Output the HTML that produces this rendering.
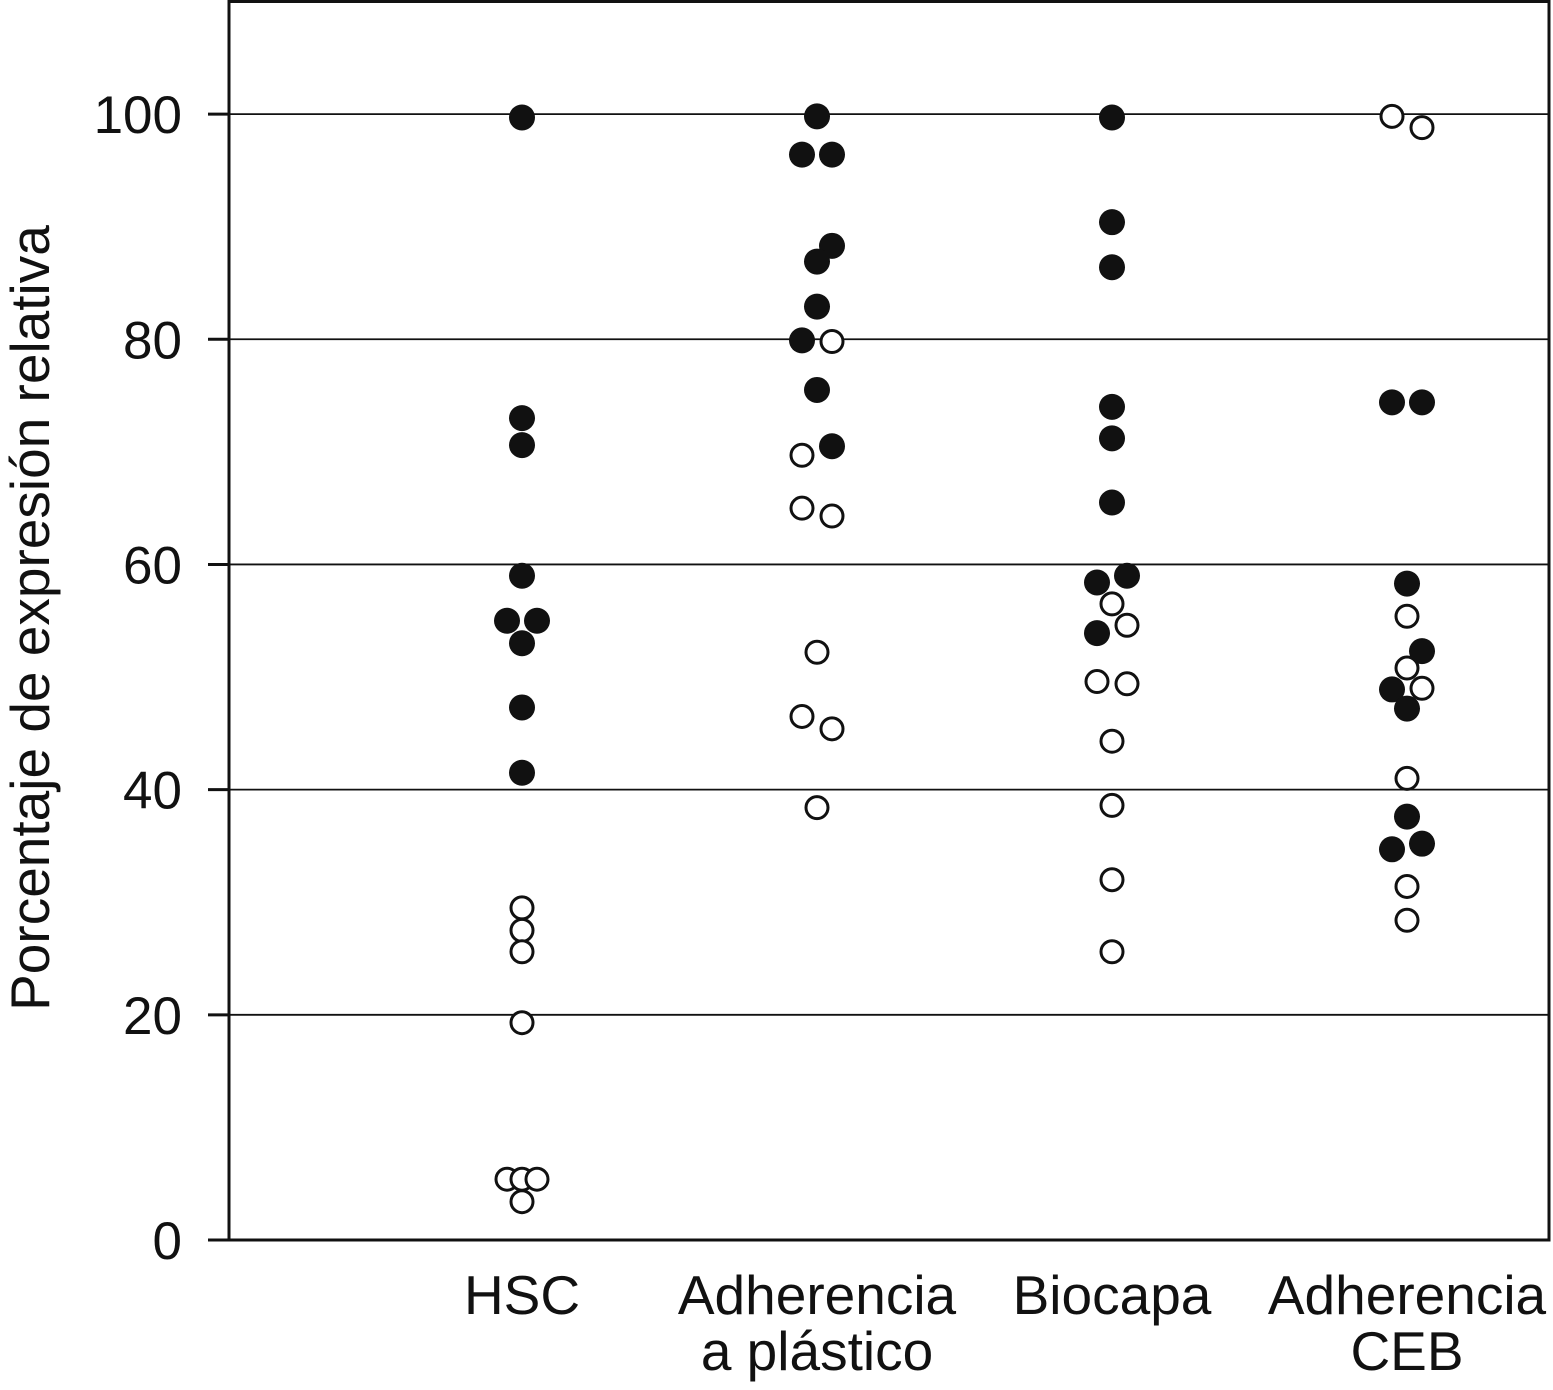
<!DOCTYPE html>
<html><head><meta charset="utf-8"><style>
html,body{margin:0;padding:0;background:#fff;}
svg{display:block;font-family:"Liberation Sans",Arial,sans-serif;}
</style></head><body>
<svg id="chart" width="1553" height="1390" viewBox="0 0 1553 1390" xmlns="http://www.w3.org/2000/svg"></svg>
<script>
const categories = ["HSC","Adherencia a plástico","Biocapa","Adherencia CEB"];
const labelLines = [["HSC"],["Adherencia","a plástico"],["Biocapa"],["Adherencia","CEB"]];
const yTicks = [0,20,40,60,80,100];
// each point: [categoryIndex, value, side(-1,0,1)]
const filledPoints = [
 [0,99.7,0],[0,73.0,0],[0,70.6,0],[0,59.0,0],[0,55.0,-1],[0,55.0,1],[0,53.0,0],[0,47.3,0],[0,41.5,0],
 [1,99.8,0],[1,96.4,-1],[1,96.4,1],[1,88.3,1],[1,86.9,0],[1,82.9,0],[1,79.9,-1],[1,75.5,0],[1,70.5,1],
 [2,99.7,0],[2,90.4,0],[2,86.4,0],[2,74.0,0],[2,71.2,0],[2,65.5,0],[2,59.0,1],[2,58.4,-1],[2,53.9,-1],
 [3,74.4,-1],[3,74.4,1],[3,58.3,0],[3,52.3,1],[3,48.9,-1],[3,47.2,0],[3,37.6,0],[3,35.2,1],[3,34.7,-1]
];
const openPoints = [
 [0,29.5,0],[0,27.5,0],[0,25.6,0],[0,19.3,0],[0,5.4,-1],[0,5.4,0],[0,5.4,1],[0,3.4,0],
 [1,79.8,1],[1,69.7,-1],[1,65.0,-1],[1,64.3,1],[1,52.2,0],[1,46.5,-1],[1,45.4,1],[1,38.4,0],
 [2,56.5,0],[2,54.6,1],[2,49.6,-1],[2,49.4,1],[2,44.3,0],[2,38.6,0],[2,32.0,0],[2,25.6,0],
 [3,99.8,-1],[3,98.8,1],[3,55.4,0],[3,50.8,0],[3,49.0,1],[3,41.0,0],[3,31.4,0],[3,28.4,0]
];
const NS="http://www.w3.org/2000/svg";
const svg=document.getElementById('chart');
const L=229,R=1549,T=1.5,B=1240,ymax=110;
const y=v=>B-(v/ymax)*(B-T);
const x=(c,s)=>522+c*295+s*15;
function mk(tag,attrs,parent){const e=document.createElementNS(NS,tag);for(const k in attrs)e.setAttribute(k,attrs[k]);(parent||svg).appendChild(e);return e;}
yTicks.forEach(t=>{
 if(t>0){const g=mk('line',{x1:L,x2:R,y1:y(t),y2:y(t),stroke:'#111','stroke-width':1.8});
 
 }
 const tk=mk('line',{x1:208,x2:L,y1:y(t),y2:y(t),stroke:'#111','stroke-width':3});
 
 
 const tx=mk('text',{x:182,y:y(t)+19,'text-anchor':'end','font-size':53,fill:'#111'});
 tx.textContent=t;
 
 
});
const fr=mk('rect',{x:L,y:T,width:R-L,height:B-T,fill:'none',stroke:'#111','stroke-width':3});


const yt=mk('text',{x:0,y:0,transform:'translate(49,618) rotate(-90)','text-anchor':'middle','font-size':55,fill:'#111'});
yt.textContent='Porcentaje de expresión relativa';


labelLines.forEach((lines,i)=>{
 const t=mk('text',{x:x(i,0),y:1314,'text-anchor':'middle','font-size':55,fill:'#111'});
 
 
 lines.forEach((ln,j)=>{const s=mk('tspan',{x:x(i,0),dy:j?56:0},t);s.textContent=ln;});
});
openPoints.forEach(p=>{
 const c=mk('circle',{cx:x(p[0],p[2]),cy:y(p[1]),r:11,fill:'#fff',stroke:'#111','stroke-width':3});
 
 
});
filledPoints.forEach(p=>{
 const c=mk('circle',{cx:x(p[0],p[2]),cy:y(p[1]),r:13,fill:'#111'});
 
 
});
</script>
</body></html>
